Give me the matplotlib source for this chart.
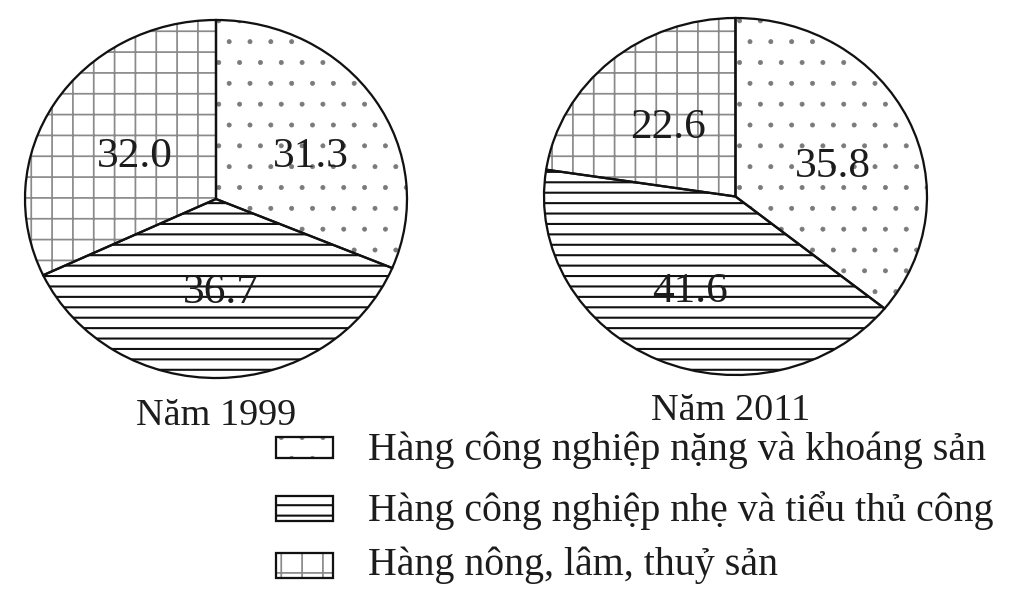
import matplotlib
matplotlib.use('Agg')
import matplotlib.pyplot as plt
from matplotlib.patches import Rectangle

# ---- data ----
categories = ["Hàng công nghiệp nặng và khoáng sản",
              "Hàng công nghiệp nhẹ và tiểu thủ công",
              "Hàng nông, lâm, thuỷ sản"]
years = ["Năm 1999", "Năm 2011"]
values_1999 = [31.3, 36.7, 32.0]
values_2011 = [35.8, 41.6, 22.6]

# ---- style ----
hatches = ['.', '--', '+']
hatch_colors = ['#7a7a7a', '#111111', '#8a8a8a']
hatch_lws = [0.4, 1.2, 1.0]

W, H = 1024, 602
DPI = 125
plt.rcParams['font.family'] = ['Liberation Serif', 'DejaVu Serif']
plt.rcParams['hatch.linewidth'] = 1.1

fig = plt.figure(figsize=(W / DPI, H / DPI), dpi=DPI)
fig.patch.set_facecolor('white')


def box(x0, y0, x1, y1):
    """pixel box (top-left origin) -> figure fraction rect"""
    return [x0 / W, 1 - y1 / H, (x1 - x0) / W, (y1 - y0) / H]


def fp(x, y):
    return x / W, 1 - y / H


def set_hlw(p, lw):
    if hasattr(p, 'set_hatch_linewidth'):
        p.set_hatch_linewidth(lw)


pie_boxes = [box(25, 20, 407, 378), box(544, 18, 927, 375)]
label_px = [[(311, 167), (221, 303), (135, 167)],
            [(833, 177), (690, 302), (668, 138)]]
title_px = [(216, 425), (731, 420)]
TXT = '#1c1c1c'

for vals, year, bx, lpos, tpos in zip([values_1999, values_2011], years,
                                      pie_boxes, label_px, title_px):
    ax = fig.add_axes(bx)
    wedges, _ = ax.pie(vals, startangle=90, counterclock=False,
                       colors=['white'] * len(vals),
                       wedgeprops=dict(linewidth=0))
    for w, h, c, lw in zip(wedges, hatches, hatch_colors, hatch_lws):
        w.set_edgecolor(c)
        w.set_hatch(h)
        set_hlw(w, lw)
        w.set_clip_on(False)
    outl, _ = ax.pie(vals, startangle=90, counterclock=False,
                     wedgeprops=dict(fill=False, edgecolor='#111111',
                                     linewidth=1.3))
    for w in outl:
        w.set_clip_on(False)
    ax.set_aspect('auto')
    ax.set_xlim(-1, 1)
    ax.set_ylim(-1, 1)
    ax.axis('off')
    for v, (x, y) in zip(vals, lpos):
        fig.text(*fp(x, y), f"{v:.1f}", ha='center', va='baseline',
                 fontsize=25, color=TXT)
    fig.text(*fp(*tpos), year, ha='center', va='baseline', fontsize=22,
             color=TXT)

# ---- legend ----
leg_boxes = [(276, 437, 333, 458), (276, 496, 333, 521), (276, 553, 333, 578)]
leg_text = [(368, 460), (368, 521), (368, 575)]
for cat, h, c, lw, (x0, y0, x1, y1), (tx, ty) in zip(categories, hatches,
                                                     hatch_colors, hatch_lws,
                                                     leg_boxes, leg_text):
    r = box(x0, y0, x1, y1)
    hp = Rectangle((r[0], r[1]), r[2], r[3], transform=fig.transFigure,
                   facecolor='white', edgecolor=c, hatch=h, linewidth=0)
    set_hlw(hp, lw)
    fig.add_artist(hp)
    fig.add_artist(Rectangle((r[0], r[1]), r[2], r[3], transform=fig.transFigure,
                             fill=False, edgecolor='#111111', linewidth=1.3))
    fig.text(*fp(tx, ty), cat, ha='left', va='baseline', fontsize=23,
             color=TXT)

fig.savefig('out.png', dpi=DPI)
